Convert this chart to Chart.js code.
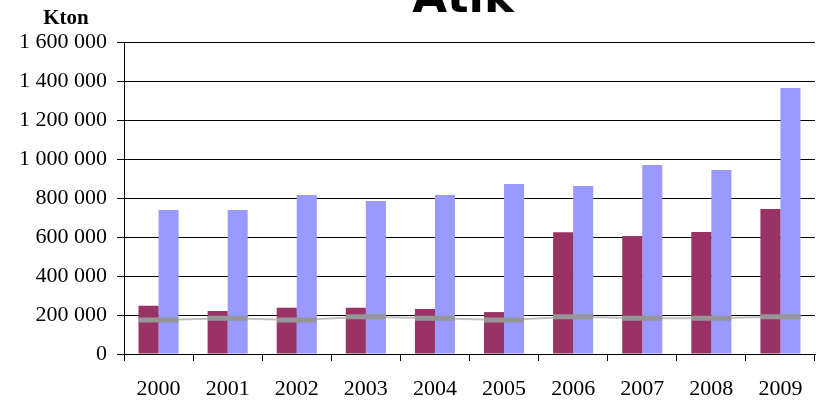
<!DOCTYPE html>
<html>
<head>
<meta charset="utf-8">
<title>Atık</title>
<script src="https://cdn.jsdelivr.net/npm/chart.js@4/dist/chart.umd.min.js"></script>
<style>
  html, body { margin: 0; padding: 0; background: #fff; }
  #wrap { position: relative; width: 825px; height: 400px; }
</style>
</head>
<body>
<div id="wrap"><canvas id="atikChart" width="825" height="400"></canvas></div>
<script>
// Yıllar ve seriler (kton)
const years = ['2000', '2001', '2002', '2003', '2004', '2005', '2006', '2007', '2008', '2009'];
const seriesA = [247000, 221000, 237000, 237000, 231000, 215000, 625000, 605000, 626000, 744000];
const seriesB = [738000, 738000, 815000, 785000, 815000, 872000, 862000, 969000, 944000, 1364000];
const seriesC = [174000, 183000, 174000, 191000, 183000, 174000, 191000, 183000, 183000, 191000];
const yTicks = [0, 200000, 400000, 600000, 800000, 1000000, 1200000, 1400000, 1600000];

function fmt(v) {
    return String(v).replace(/\B(?=(\d{3})+(?!\d))/g, ' ');
}

// Başlık ve birim yazısı
const labelsPlugin = {
    id: 'labels',
    afterDraw(chart) {
        const ctx = chart.ctx;
        ctx.save();
        ctx.fillStyle = '#000';
        ctx.textAlign = 'center';
        ctx.textBaseline = 'alphabetic';
        ctx.font = 'bold 45px "DejaVu Sans"';
        ctx.fillText('Atık', 463, 12);
        ctx.font = 'bold 21px "Liberation Serif"';
        ctx.fillText('Kton', 66, 24);
        ctx.restore();
    }
};

const ctx = document.getElementById('atikChart').getContext('2d');
new Chart(ctx, {
    type: 'bar',
    data: {
        labels: years,
        datasets: [
            {
                type: 'line',
                label: 'C',
                data: seriesC,
                borderColor: '#c0c0c0',
                borderWidth: 2,
                pointStyle: 'line',
                pointRadius: 20,
                pointBorderWidth: 5,
                pointBorderColor: '#969696',
                pointBackgroundColor: '#969696',
                order: 0
            },
            {
                label: 'A',
                data: seriesA,
                backgroundColor: '#993366',
                categoryPercentage: 0.58,
                barPercentage: 1,
                order: 1
            },
            {
                label: 'B',
                data: seriesB,
                backgroundColor: '#9999ff',
                categoryPercentage: 0.58,
                barPercentage: 1,
                order: 1
            }
        ]
    },
    options: {
        responsive: false,
        animation: false,
        layout: {
            autoPadding: false,
            padding: { top: 42, right: 10, left: 0, bottom: 0 }
        },
        plugins: {
            legend: { display: false },
            tooltip: { enabled: false }
        },
        scales: {
            x: {
                offset: true,
                grid: {
                    display: true,
                    offset: true,
                    drawOnChartArea: false,
                    color: '#000',
                    tickLength: 7
                },
                border: { color: '#000' },
                ticks: {
                    color: '#000',
                    padding: 15,
                    font: { family: '"Liberation Serif"', size: 22 }
                },
                afterFit(scale) { scale.height = 46; }
            },
            y: {
                min: 0,
                max: 1600000,
                afterBuildTicks(scale) {
                    scale.ticks = yTicks.map(v => ({ value: v }));
                },
                grid: {
                    color: '#000',
                    tickLength: 7
                },
                border: { color: '#000' },
                ticks: {
                    color: '#000',
                    padding: 10,
                    font: { family: '"Liberation Serif"', size: 22 },
                    callback: v => fmt(v)
                },
                afterFit(scale) { scale.width = 124; }
            }
        }
    },
    plugins: [labelsPlugin]
});
</script>
</body>
</html>
